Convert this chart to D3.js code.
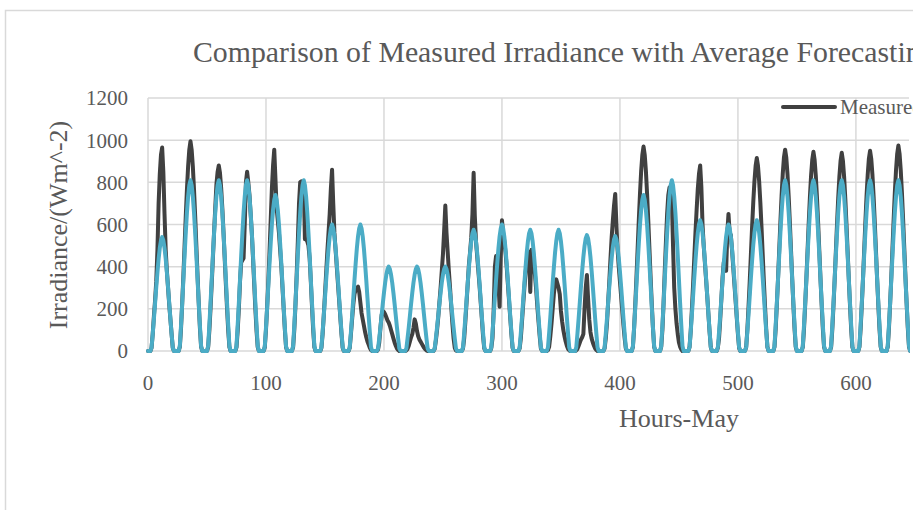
<!DOCTYPE html>
<html>
<head>
<meta charset="utf-8">
<script src="https://cdn.jsdelivr.net/npm/d3@7/dist/d3.min.js"></script>
<style>
  html, body { margin: 0; padding: 0; background: #fff; overflow: hidden; }
</style>
</head>
<body>
<div id="chart"></div>
<script>
// chart text
const chartTitle = "Comparison of Measured Irradiance with Average Forecasting";
const xTitle = "Hours-May";
const yTitle = "Irradiance/(Wm^-2)";
const seriesNames = ["Measured", "Forecasted"];

// axis ticks
const yTicks = [0, 200, 400, 600, 800, 1000, 1200];
const xTicks = [0, 100, 200, 300, 400, 500, 600];

// hourly measured irradiance, one row per day (hour 0..23)
const measuredByDay = [
  [0,0,0,15,80,165,240,330,480,700,840,930,965,850,650,480,380,300,220,150,80,15,0,0],
  [0,0,0,20,109,229,358,498,637,766,876,955,995,955,876,766,637,498,358,229,109,20,0,0],
  [0,0,0,18,97,202,317,440,563,678,790,850,880,845,774,678,563,440,317,202,97,18,0,0],
  [0,0,0,17,95,200,330,420,430,440,600,800,850,800,740,650,560,440,320,200,95,18,0,0],
  [0,0,0,18,100,210,330,470,620,770,880,955,820,680,620,560,480,400,300,200,100,18,0,0],
  [0,0,0,18,100,220,360,520,700,800,805,800,790,530,530,520,500,440,330,210,100,18,0,0],
  [0,0,0,15,80,170,270,370,470,560,650,770,860,700,560,480,400,320,240,160,80,15,0,0],
  [0,0,0,15,80,150,220,270,290,300,305,280,230,180,150,120,90,65,45,30,15,5,0,0],
  [0,0,0,8,40,110,170,190,185,175,160,145,135,120,100,80,60,40,25,12,5,0,0,0],
  [0,0,0,3,10,25,45,65,80,110,150,130,95,70,55,45,35,25,15,8,3,0,0,0],
  [0,0,0,10,50,100,160,230,300,380,460,570,690,560,470,380,300,210,130,60,15,3,0,0],
  [0,0,0,12,60,140,230,320,410,470,540,650,845,640,520,450,380,310,230,150,70,12,0,0],
  [0,0,0,15,60,200,400,450,420,330,210,450,620,560,520,470,400,320,240,160,80,15,0,0],
  [0,0,0,12,60,140,220,300,370,420,450,470,280,480,470,420,360,290,210,140,70,12,0,0],
  [0,0,0,5,20,70,130,200,270,320,340,320,300,270,190,140,100,70,45,25,10,3,0,0],
  [0,0,0,3,10,25,40,55,65,80,200,300,360,250,150,90,60,40,25,12,5,0,0,0],
  [0,0,0,12,60,130,230,330,440,540,620,690,745,600,480,400,330,260,190,120,60,12,0,0],
  [0,0,0,19,107,223,349,485,621,747,854,931,970,931,854,747,621,485,349,223,107,19,0,0],
  [0,0,0,20,100,230,380,520,650,740,775,780,720,500,300,200,130,80,40,20,8,0,0,0],
  [0,0,0,18,95,200,315,440,560,670,770,840,880,780,600,500,420,340,260,175,90,18,0,0],
  [0,0,0,15,60,150,250,350,420,440,380,560,650,560,550,480,400,320,240,160,80,15,0,0],
  [0,0,0,18,101,210,329,458,586,705,805,878,915,878,805,705,586,458,329,210,101,18,0,0],
  [0,0,0,19,105,220,344,478,611,735,840,917,955,917,840,735,611,478,344,220,105,19,0,0],
  [0,0,0,19,104,217,340,473,605,728,832,907,945,907,832,728,605,473,340,217,104,19,0,0],
  [0,0,0,19,103,216,338,470,602,724,827,902,940,902,827,724,602,470,338,216,103,19,0,0],
  [0,0,0,19,105,219,342,475,608,732,836,912,950,912,836,732,608,475,342,219,105,19,0,0],
  [0,0,0,20,107,224,351,488,624,751,858,936,975,936,858,751,624,488,351,224,107,20,0,0]
];

// hourly average forecast, one row per day
const forecastByDay = [
  [0,0,0,16,81,151,227,302,373,437,489,524,540,524,489,437,373,302,227,151,81,16,0,0],
  [0,0,0,24,122,227,340,454,559,656,733,786,810,786,733,656,559,454,340,227,122,24,0,0],
  [0,0,0,24,122,227,340,454,559,656,733,786,810,786,733,656,559,454,340,227,122,24,0,0],
  [0,0,0,24,122,227,340,454,559,656,733,786,810,786,733,656,559,454,340,227,122,24,0,0],
  [0,0,0,22,111,207,311,414,511,599,670,718,740,718,670,599,511,414,311,207,111,22,0,0],
  [0,0,0,24,122,227,340,454,559,656,733,786,810,786,733,656,559,454,340,227,122,24,0,0],
  [0,0,0,18,90,168,252,336,414,486,543,582,600,582,543,486,414,336,252,168,90,18,0,0],
  [0,0,0,18,90,168,252,336,414,486,543,582,600,582,543,486,414,336,252,168,90,18,0,0],
  [0,0,0,12,60,112,168,224,276,324,362,388,400,388,362,324,276,224,168,112,60,12,0,0],
  [0,0,0,12,60,112,168,224,276,324,362,388,400,388,362,324,276,224,168,112,60,12,0,0],
  [0,0,0,12,60,112,168,224,276,324,362,388,400,388,362,324,276,224,168,112,60,12,0,0],
  [0,0,0,17,86,161,242,322,397,466,520,558,575,558,520,466,397,322,242,161,86,17,0,0],
  [0,0,0,18,90,168,252,336,414,486,543,582,600,582,543,486,414,336,252,168,90,18,0,0],
  [0,0,0,17,86,161,242,322,397,466,520,558,575,558,520,466,397,322,242,161,86,17,0,0],
  [0,0,0,17,86,161,242,322,397,466,520,558,575,558,520,466,397,322,242,161,86,17,0,0],
  [0,0,0,17,83,154,231,308,380,446,498,534,550,534,498,446,380,308,231,154,83,17,0,0],
  [0,0,0,16,82,153,229,305,376,441,493,529,545,529,493,441,376,305,229,153,82,16,0,0],
  [0,0,0,22,111,207,311,414,511,599,670,718,740,718,670,599,511,414,311,207,111,22,0,0],
  [0,0,0,24,122,227,340,454,559,656,733,786,810,786,733,656,559,454,340,227,122,24,0,0],
  [0,0,0,19,93,174,260,347,428,502,561,601,620,601,561,502,428,347,260,174,93,19,0,0],
  [0,0,0,18,90,168,252,336,414,486,543,582,600,582,543,486,414,336,252,168,90,18,0,0],
  [0,0,0,19,93,174,260,347,428,502,561,601,620,601,561,502,428,347,260,174,93,19,0,0],
  [0,0,0,24,122,227,340,454,559,656,733,786,810,786,733,656,559,454,340,227,122,24,0,0],
  [0,0,0,24,122,227,340,454,559,656,733,786,810,786,733,656,559,454,340,227,122,24,0,0],
  [0,0,0,24,122,227,340,454,559,656,733,786,810,786,733,656,559,454,340,227,122,24,0,0],
  [0,0,0,24,122,227,340,454,559,656,733,786,810,786,733,656,559,454,340,227,122,24,0,0],
  [0,0,0,24,122,227,340,454,559,656,733,786,810,786,733,656,559,454,340,227,122,24,0,0]
];

drawChart();

function drawChart(){
    const width = 913, height = 510;
    const plot = {left: 148, right: 909, top: 98, bottom: 351};
    const font = "'Liberation Serif', 'Times New Roman', serif";
    const textColor = "#595959";
    const gridColor = "#d9d9d9";
    const colors = ["#404040", "#4bacc6"];

    const series = [measuredByDay.flat(), forecastByDay.flat()];

    const x = d3.scaleLinear().domain([0, 645]).range([plot.left, plot.right]);
    const y = d3.scaleLinear().domain([0, 1200]).range([plot.bottom, plot.top]);

    const svg = d3.select("#chart").append("svg")
        .attr("width", width)
        .attr("height", height)
        .style("display", "block")
        .style("font-family", font);

    // chart area border (cropped on the right and bottom)
    svg.append("rect")
        .attr("x", 5.5).attr("y", 10.5)
        .attr("width", 1000).attr("height", 600)
        .attr("fill", "#fff")
        .attr("stroke", gridColor)
        .attr("stroke-width", 1.5);

    // gridlines
    svg.append("g")
        .selectAll("line")
        .data(yTicks)
        .enter().append("line")
        .attr("x1", plot.left).attr("x2", plot.right)
        .attr("y1", d => y(d)).attr("y2", d => y(d))
        .attr("stroke", gridColor)
        .attr("stroke-width", 1.5);

    svg.append("g")
        .selectAll("line")
        .data(xTicks)
        .enter().append("line")
        .attr("x1", d => x(d)).attr("x2", d => x(d))
        .attr("y1", plot.top).attr("y2", plot.bottom)
        .attr("stroke", gridColor)
        .attr("stroke-width", 1.5);

    // tick labels
    svg.append("g")
        .selectAll("text")
        .data(yTicks)
        .enter().append("text")
        .attr("x", 128)
        .attr("y", d => y(d))
        .attr("dy", "0.35em")
        .attr("text-anchor", "end")
        .attr("fill", textColor)
        .style("font-size", "21px")
        .text(d => d);

    svg.append("g")
        .selectAll("text")
        .data(xTicks)
        .enter().append("text")
        .attr("x", d => x(d))
        .attr("y", 390)
        .attr("text-anchor", "middle")
        .attr("fill", textColor)
        .style("font-size", "21px")
        .text(d => d);

    // lines
    svg.append("clipPath").attr("id", "plot-clip")
        .append("rect")
        .attr("x", 0).attr("y", 0)
        .attr("width", plot.right + 1).attr("height", height);

    const line = d3.line()
        .x((d, i) => x(i))
        .y(d => y(d));

    svg.append("g")
        .attr("clip-path", "url(#plot-clip)")
        .selectAll("path")
        .data(series)
        .enter().append("path")
        .attr("d", line)
        .attr("fill", "none")
        .attr("stroke", (d, i) => colors[i])
        .attr("stroke-width", 4)
        .attr("stroke-linejoin", "round")
        .attr("stroke-linecap", "round");

    // titles
    svg.append("text")
        .attr("x", 193).attr("y", 62)
        .attr("fill", textColor)
        .style("font-size", "29.8px")
        .text(chartTitle);

    svg.append("text")
        .attr("x", 679).attr("y", 427)
        .attr("text-anchor", "middle")
        .attr("fill", textColor)
        .style("font-size", "26px")
        .text(xTitle);

    svg.append("text")
        .attr("transform", "translate(58,225) rotate(-90)")
        .attr("dy", "0.35em")
        .attr("text-anchor", "middle")
        .attr("fill", textColor)
        .style("font-size", "26px")
        .text(yTitle);

    // legend (second entry falls outside the visible area)
    const legend = svg.append("g")
        .selectAll("g")
        .data(seriesNames)
        .enter().append("g")
        .attr("transform", (d, i) => "translate(" + (783 + i * 160) + ",107)");

    legend.append("line")
        .attr("x1", 0).attr("x2", 52)
        .attr("stroke", (d, i) => colors[i])
        .attr("stroke-width", 4)
        .attr("stroke-linecap", "round");

    legend.append("text")
        .attr("x", 57)
        .attr("dy", "0.35em")
        .attr("fill", textColor)
        .style("font-size", "21px")
        .text(d => d);
}
</script>
</body>
</html>
